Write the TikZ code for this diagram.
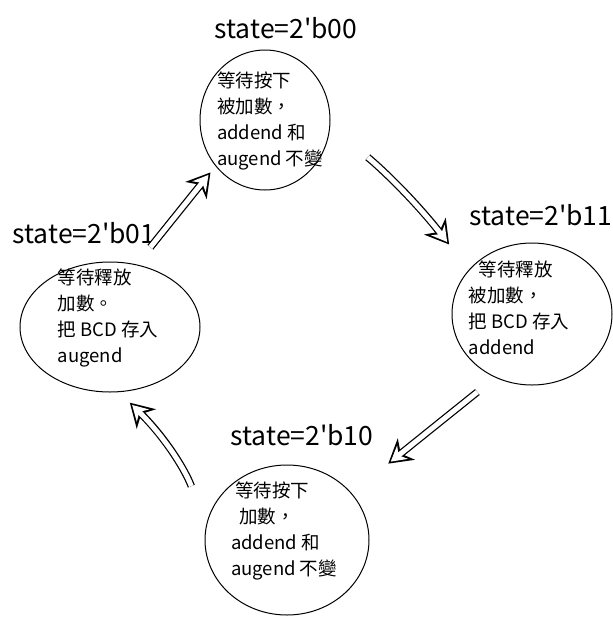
\documentclass[tikz,border=0pt]{standalone}
\usepackage{fontspec}
\setmainfont{Noto Sans CJK TC}[Ligatures=TeXOff]
\usepackage{tikz}
\usetikzlibrary{arrows.meta,positioning,shapes.geometric}

\begin{document}
\begin{tikzpicture}[x=1pt,y=-1pt,
  statebox/.style={draw,ellipse,line width=1pt,inner sep=0pt},
  memo/.style={align=left,font=\fontsize{18.5}{26}\selectfont},
  statelabel/.style={font=\fontsize{26.5}{30}\selectfont},
  hollow/.style={white,line width=5pt,
    -{Stealth[length=15pt,width=17pt,inset=5pt,sep=3.2pt]},
    preaction={draw=black,line width=7.5pt,-{Stealth[length=23pt,width=27pt,inset=7pt]}}}]
  \useasboundingbox (0,0) rectangle (613,619);
  % 状態 2'b00(上)
  \node[statebox,minimum width=130pt,minimum height=140pt] (s00) at (265,120) {};
  \node[memo] (m00) at (270,121) {等待按下\\被加數，\\addend 和\\augend 不變};
  \node[statelabel] (l00) at (286,28) {state=2'b00};
  % 状態 2'b11(右)
  \node[statebox,minimum width=160pt,minimum height=142pt] (s11) at (532,314) {};
  \node[memo] (m11) at (519,308) {\hspace{10pt}等待釋放\\被加數，\\把 BCD 存入\\addend};
  \node[statelabel] (l11) at (541,215) {state=2'b11};
  % 状態 2'b10(下)
  \node[statebox,minimum width=164pt,minimum height=150pt] (s10) at (287,540) {};
  \node[memo] (m10) at (284,531) {\hspace{4pt}等待按下\\\hspace{8pt}加數，\\addend 和\\augend 不變};
  \node[statelabel] (l10) at (302,435) {state=2'b10};
  % 状態 2'b01(左)
  \node[statebox,minimum width=180pt,minimum height=130pt] (s01) at (110,327) {};
  \node[memo] (m01) at (108,318) {等待釋放\\加數。\\把 BCD 存入\\augend};
  \node[statelabel] (l01) at (84,233) {state=2'b01};
  % 状態遷移(白抜きの矢印)
  \draw[hollow,shorten <=49pt,shorten >=32pt] (s00.-5) to[bend left=6] (s11.145);
  \draw[hollow,shorten <=23pt,shorten >=47pt] (s11.240) -- (s10.36);
  \draw[hollow,shorten <=41pt,shorten >=15pt] (s10.169) to[bend right=12] (s01.-82);
  \draw[hollow,shorten <=22pt,shorten >=8pt] (s01.67) -- (s00.223);
\end{tikzpicture}
\end{document}
